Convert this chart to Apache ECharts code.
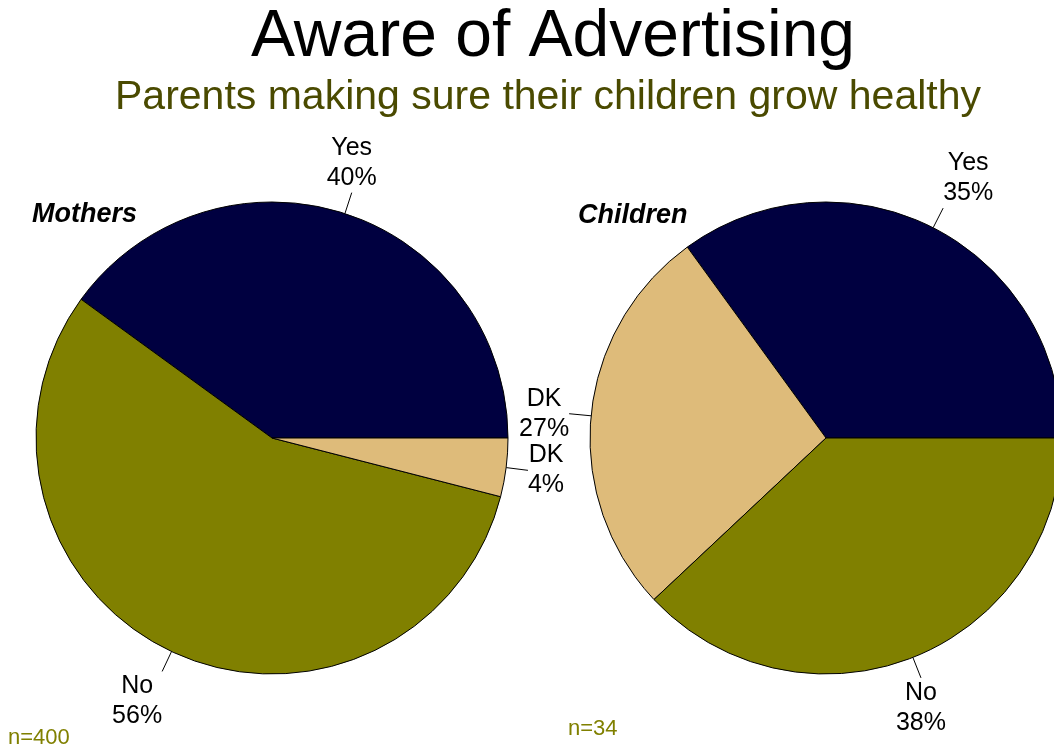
<!DOCTYPE html>
<html>
<head>
<meta charset="utf-8">
<title>Aware of Advertising</title>
<script src="https://cdn.jsdelivr.net/npm/echarts@6/dist/echarts.min.js"></script>
<style>
  html, body { margin: 0; padding: 0; background: #ffffff; }
  #chart { width: 1054px; height: 748px; }
</style>
</head>
<body>
<div id="chart"></div>
<script>
// Survey answers (percent), listed counter-clockwise from 3 o'clock
const mothersCategories = ['Yes', 'No', 'DK'];
const mothersValues = [40, 56, 4];
const childrenCategories = ['Yes', 'DK', 'No'];
const childrenValues = [35, 27, 38];
const sampleSizes = ['n=400', 'n=34'];
const groupNames = ['Mothers', 'Children'];

const answerColors = { Yes: '#000040', No: '#808000', DK: '#DEBB7A' };
const FONT = '"Liberation Sans", Arial, sans-serif';

function toData(cats, vals) {
  return cats.map((c, i) => ({
    name: c,
    value: vals[i],
    itemStyle: { color: answerColors[c] }
  }));
}

// Attach each label to the end of its leader line on the side (or corner)
// that faces away from the pie, snapped to the nearest 45 degrees.
function placeLabel(params) {
  const pts = params.labelLinePoints;
  if (!pts || !pts.length) return {};
  const a = pts[0];
  const e = pts[pts.length - 1];
  const ang = Math.atan2(-(e[1] - a[1]), e[0] - a[0]);
  const snap = Math.round(ang / (Math.PI / 4)) * (Math.PI / 4);
  const sx = Math.round(Math.cos(snap));
  const sy = -Math.round(Math.sin(snap));
  const w = params.labelRect.width;
  const h = params.labelRect.height;
  return {
    x: e[0] + sx * w / 2,
    y: e[1] + sy * h / 2,
    align: 'center',
    verticalAlign: 'middle',
    labelLinePoints: [a.slice(), e.slice(), e.slice()]
  };
}

function pieSeries(name, cats, vals, center) {
  return {
    type: 'pie',
    name: name,
    center: center,
    radius: 236,
    startAngle: 0,
    clockwise: false,
    avoidLabelOverlap: false,
    silent: true,
    emphasis: { disabled: true },
    itemStyle: { borderColor: '#000000', borderWidth: 1 },
    label: {
      show: true,
      position: 'outside',
      alignTo: 'none',
      formatter: '{b}\n{c}%',
      color: '#000000',
      fontFamily: FONT,
      fontSize: 25,
      lineHeight: 30
    },
    labelLine: {
      show: true,
      length: 22,
      length2: 0,
      smooth: false,
      lineStyle: { color: '#000000', width: 1 }
    },
    labelLayout: placeLabel,
    data: toData(cats, vals)
  };
}

const chart = echarts.init(document.getElementById('chart'), null, { renderer: 'canvas' });

chart.setOption({
  backgroundColor: '#ffffff',
  animation: false,
  graphic: [
    {
      type: 'text', x: 553, y: 38,
      style: { text: 'Aware of Advertising', fill: '#000000', font: '66px ' + FONT, align: 'center', verticalAlign: 'middle' }
    },
    {
      type: 'text', x: 548, y: 98,
      style: { text: 'Parents making sure their children grow healthy', fill: '#4A4A00', font: '41px ' + FONT, align: 'center', verticalAlign: 'middle' }
    },
    {
      type: 'text', left: 32, top: 201,
      style: { text: groupNames[0], fill: '#000000', font: 'italic bold 27px ' + FONT, lineHeight: 27 }
    },
    {
      type: 'text', left: 578, top: 202,
      style: { text: groupNames[1], fill: '#000000', font: 'italic bold 27px ' + FONT, lineHeight: 27 }
    },
    {
      type: 'text', left: 8, top: 727,
      style: { text: sampleSizes[0], fill: '#808000', font: '22px ' + FONT, lineHeight: 22 }
    },
    {
      type: 'text', left: 568, top: 718,
      style: { text: sampleSizes[1], fill: '#808000', font: '22px ' + FONT, lineHeight: 22 }
    }
  ],
  series: [
    pieSeries(groupNames[0], mothersCategories, mothersValues, [272, 438]),
    pieSeries(groupNames[1], childrenCategories, childrenValues, [826, 438])
  ]
});
</script>
</body>
</html>
